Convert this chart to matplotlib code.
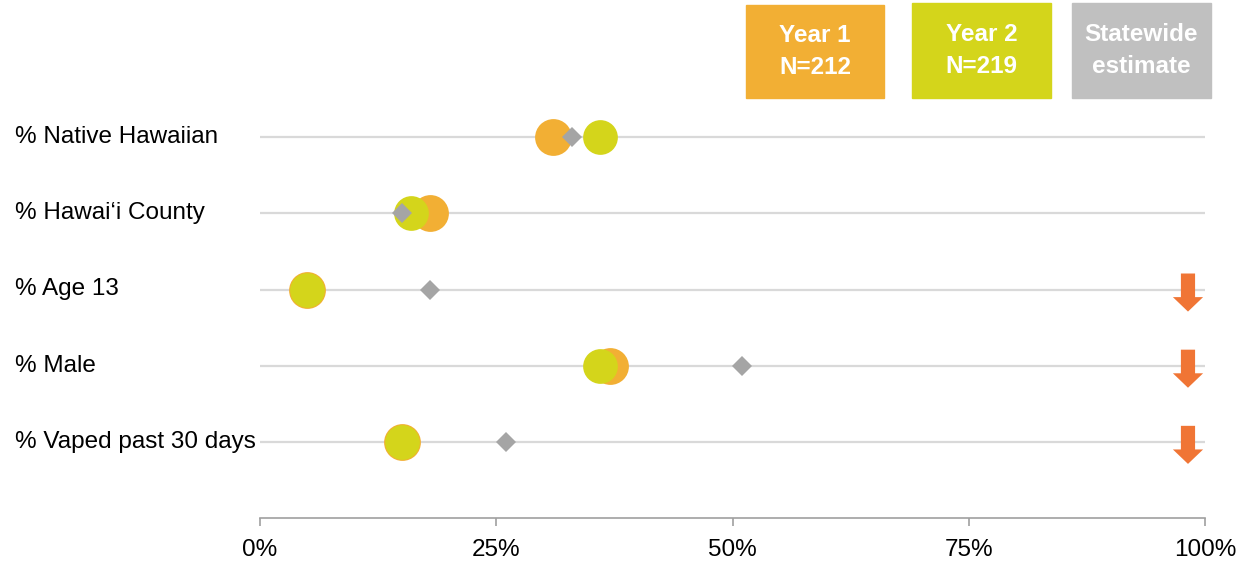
import matplotlib
matplotlib.use("Agg")
import matplotlib.pyplot as plt
from matplotlib.patches import Rectangle
from matplotlib.transforms import blended_transform_factory

plt.rcParams['font.family'] = ['Liberation Sans', 'DejaVu Sans']

# data
labels = ['% Native Hawaiian', '% Hawai\u2018i County', '% Age 13', '% Male', '% Vaped past 30 days']
year1 = [31, 18, 5, 37, 15]
year2 = [36, 16, 5, 36, 15]
statewide = [33, 15, 18, 51, 26]
flag_down = [False, False, True, True, True]
xticks = [0, 25, 50, 75, 100]
legend_text = ['Year 1\nN=212', 'Year 2\nN=219', 'Statewide\nestimate']

c_y1 = '#F2AF34'
c_y2 = '#D4D51B'
c_st = '#A5A5A5'
c_arrow = '#F07535'

fig = plt.figure(figsize=(12.53, 5.65), dpi=100)
ax = fig.add_axes([260/1253, 1 - 518/565, 945/1253, 457/565])

rows = list(range(len(labels)))
for r in rows:
    ax.axhline(r, color='#D9D9D9', lw=1.6, zorder=1)

ax.plot(year1, rows, 'o', color=c_y1, markersize=26.5, mew=0, ls='none', zorder=3)
ax.plot(year2, rows, 'o', color=c_y2, markersize=25, mew=0, ls='none', zorder=4)
ax.plot(statewide, rows, 'D', color=c_st, markersize=10, mew=0, ls='none', zorder=5)

for r, f in zip(rows, flag_down):
    if f:
        ax.arrow(98.2, r - 0.21, 0, 0.5, width=1.5, head_width=3.2, head_length=0.19,
                 length_includes_head=True, color=c_arrow, lw=0, zorder=6)

ax.set_xlim(0, 100)
ax.set_ylim(5, -1)
ax.set_xticks(xticks)
ax.set_xticklabels([f'{t}%' for t in xticks], fontsize=17.5)
ax.set_yticks([])
for s in ['top', 'left', 'right']:
    ax.spines[s].set_visible(False)
ax.spines['bottom'].set_color('#A0A0A0')
ax.spines['bottom'].set_linewidth(1.2)
ax.tick_params(axis='x', colors='#A0A0A0', length=6, width=1.2, pad=9, labelcolor='black')

trans = blended_transform_factory(fig.transFigure, ax.transData)
for r, lab in zip(rows, labels):
    ax.text(15/1253, r, lab, transform=trans, ha='left', va='center', fontsize=17.5)

# legend boxes
boxes = [(746, 5, 138, 93), (912, 3, 139, 95), (1072, 3, 139, 95)]
box_colors = [c_y1, c_y2, '#C0C0C0']
for (x, y, w, h), col, txt in zip(boxes, box_colors, legend_text):
    fig.patches.append(Rectangle((x/1253, 1 - (y + h)/565), w/1253, h/565,
                                 transform=fig.transFigure, color=col, zorder=0))
    fig.text((x + w/2)/1253, 1 - (y + h/2)/565, txt, ha='center', va='center',
             color='white', fontsize=17.5, fontweight='bold', linespacing=1.45)

fig.savefig('out.png', dpi=100)
